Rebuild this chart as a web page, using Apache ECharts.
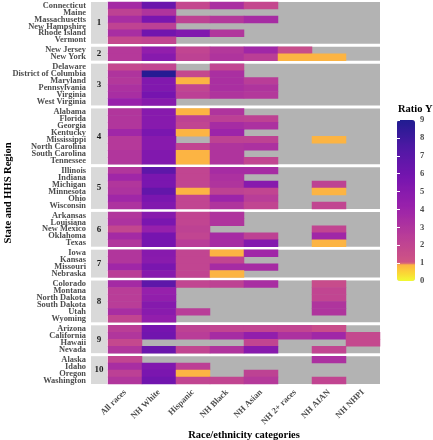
<!DOCTYPE html>
<html>
<head>
<meta charset="utf-8">
<script src="https://cdn.jsdelivr.net/npm/echarts@6/dist/echarts.min.js"></script>
<style>
html,body{margin:0;padding:0;background:#fff;}
#chart{width:433px;height:440px;}
</style>
</head>
<body>
<div id="chart"></div>
<script>
// ---------- DATA ----------
const categories = ['All races','NH White','Hispanic','NH Black','NH Asian','NH 2+ races','NH AIAN','NH NHPI'];
const regionLabels = ['1','2','3','4','5','6','7','8','9','10'];
const colorbarTicks = [0,1,2,3,4,5,6,7,8,9];

const region1States = ['Connecticut','Maine','Massachusetts','New Hampshire','Rhode Island','Vermont'];
const region1Values = [
  [3.6,6.3,1.8,3.3,1.8,null,null,null],
  [2.2,3.0,null,null,null,null,null,null],
  [3.4,5.6,2.2,2.8,3.5,null,null,null],
  [2.1,2.3,null,null,null,null,null,null],
  [3.4,6.0,5.3,2.9,null,null,null,null],
  [1.8,2.0,null,null,null,null,null,null]
];
const region2States = ['New Jersey','New York'];
const region2Values = [
  [2.7,4.5,2.0,2.8,3.8,1.6,null,null],
  [2.7,5.0,2.2,3.0,2.4,0.9,0.9,null]
];
const region3States = ['Delaware','District of Columbia','Maryland','Pennsylvania','Virginia','West Virginia'];
const region3Values = [
  [1.8,2.0,null,2.0,null,null,null,null],
  [3.0,8.8,1.8,3.3,null,null,null,null],
  [2.8,5.3,0.9,3.3,2.5,null,null,null],
  [3.2,5.3,2.0,3.3,3.0,null,null,null],
  [3.4,5.8,2.3,3.0,2.8,null,null,null],
  [4.2,5.0,null,null,null,null,null,null]
];
const region4States = ['Alabama','Florida','Georgia','Kentucky','Mississippi','North Carolina','South Carolina','Tennessee'];
const region4Values = [
  [2.9,5.0,0.9,3.0,null,null,null,null],
  [2.9,5.0,2.2,2.3,2.2,null,null,null],
  [2.9,5.0,2.0,3.5,3.2,null,null,null],
  [3.8,5.6,0.9,4.0,null,null,null,null],
  [2.7,5.0,null,2.2,2.2,null,0.9,null],
  [2.7,5.0,2.0,3.0,3.2,null,null,null],
  [2.9,5.3,0.9,3.0,null,null,null,null],
  [2.9,5.3,0.9,3.0,2.0,null,null,null]
];
const region5States = ['Illinois','Indiana','Michigan','Minnesota','Ohio','Wisconsin'];
const region5Values = [
  [2.9,6.8,2.0,3.5,3.5,null,null,null],
  [3.8,5.6,2.0,3.2,null,null,null,null],
  [2.9,5.6,2.0,3.0,5.0,null,2.2,null],
  [3.1,6.6,0.9,2.2,2.0,null,0.9,null],
  [3.8,5.6,2.0,4.0,2.5,null,null,null],
  [3.1,5.3,2.0,3.0,2.0,null,2.0,null]
];
const region6States = ['Arkansas','Louisiana','New Mexico','Oklahoma','Texas'];
const region6Values = [
  [2.9,5.0,2.0,3.0,null,null,null,null],
  [3.1,5.6,2.0,3.0,null,null,null,null],
  [1.9,4.3,2.2,null,null,null,2.0,null],
  [3.6,5.8,2.0,3.5,2.2,null,3.8,null],
  [2.9,5.8,2.5,3.5,5.2,null,0.9,null]
];
const region7States = ['Iowa','Kansas','Missouri','Nebraska'];
const region7Values = [
  [2.9,5.0,2.0,0.9,3.8,null,null,null],
  [2.9,4.9,2.0,2.0,null,null,null,null],
  [3.8,5.6,2.0,3.5,3.5,null,null,null],
  [2.4,5.0,2.0,0.9,null,null,null,null]
];
const region8States = ['Colorado','Montana','North Dakota','South Dakota','Utah','Wyoming'];
const region8Values = [
  [3.6,6.8,2.0,2.2,3.4,null,1.6,null],
  [2.5,4.3,null,null,null,null,2.0,null],
  [2.5,4.5,null,null,null,null,2.0,null],
  [2.5,5.1,null,null,null,null,3.0,null],
  [3.4,4.9,2.5,null,null,null,3.0,null],
  [2.0,4.5,null,null,null,null,null,null]
];
const region9States = ['Arizona','California','Hawaii','Nevada'];
const region9Values = [
  [2.4,5.8,2.2,2.0,2.0,2.0,1.5,null],
  [2.9,6.0,2.5,3.5,4.5,3.2,3.8,1.8],
  [1.8,null,null,null,2.0,null,null,1.8],
  [2.9,6.3,2.0,3.0,5.0,null,2.0,null]
];
const region10States = ['Alaska','Idaho','Oregon','Washington'];
const region10Values = [
  [2.0,null,null,null,null,null,3.2,null],
  [3.4,5.3,2.3,null,null,null,null,null],
  [2.3,5.6,0.9,null,2.2,null,null,null],
  [2.9,6.0,2.0,2.0,2.7,null,2.0,null]
];

const regionStates = [region1States,region2States,region3States,region4States,region5States,
  region6States,region7States,region8States,region9States,region10States];
const regionValues = [region1Values,region2Values,region3Values,region4Values,region5Values,
  region6Values,region7Values,region8Values,region9Values,region10Values];

// ---------- COLOURS (plasma with a break at 1) ----------
const plasma = ['#0d0887','#41049d','#6a00a8','#8f0da4','#b12a90','#cc4778','#e16462','#f2844b','#fca636','#fcce25','#f0f921'];
function hex2rgb(h){return [parseInt(h.substr(1,2),16),parseInt(h.substr(3,2),16),parseInt(h.substr(5,2),16)];}
function plasmaAt(t){
  t = Math.max(0, Math.min(1, t));
  const p = t * (plasma.length - 1);
  const i = Math.min(plasma.length - 2, Math.floor(p));
  const f = p - i;
  const a = hex2rgb(plasma[i]), b = hex2rgb(plasma[i+1]);
  const c = a.map((v,k)=>{ const x = v + (b[k]-v)*f; return Math.round(x + (255 - x) * 0.08); });
  return 'rgb(' + c.join(',') + ')';
}
function ratioColor(v){
  const t = v >= 1 ? 0.5 * (9 - v) / 8 : 0.8 + 0.2 * (1 - v);
  return plasmaAt(t);
}
const rampColors = [];
for (let i = 0; i <= 180; i++) rampColors.push(ratioColor(i * 0.05));

// ---------- LAYOUT ----------
const GRID_LEFT = 108, GRID_WIDTH = 272, GRID_TOP = 2, GRID_BOTTOM = 384, GAP = 3;
const totalRows = regionStates.reduce((s,a)=>s+a.length,0);
const rowH = (GRID_BOTTOM - GRID_TOP - GAP*(regionStates.length-1)) / totalRows;
const SERIF = "'Liberation Serif', 'DejaVu Serif', serif";
const labelColor = '#4d4d4d';

const grids = [], xAxes = [], yAxes = [], series = [], graphics = [];
let y = GRID_TOP;
regionStates.forEach((states, i) => {
  const h = states.length * rowH;
  grids.push({left: GRID_LEFT, top: y, width: GRID_WIDTH, height: h, show: true,
    backgroundColor: '#b3b3b3', borderWidth: 0, containLabel: false, outerBoundsMode: 'none'});
  const last = i === regionStates.length - 1;
  xAxes.push({
    type: 'category', gridIndex: i, data: categories, show: last,
    axisLine: {show: false}, axisTick: {show: false}, splitLine: {show: false},
    axisLabel: {show: last, interval: 0, rotate: 45, margin: 7,
      fontFamily: SERIF, fontWeight: 'bold', fontSize: 8.6, color: labelColor},
    name: last ? 'Race/ethnicity categories' : '', nameLocation: 'middle', nameGap: 43,
    nameTextStyle: {fontFamily: SERIF, fontWeight: 'bold', fontSize: 10.5, color: '#000'}
  });
  yAxes.push({
    type: 'category', gridIndex: i, data: states, inverse: true,
    axisLine: {show: false}, axisTick: {show: false}, splitLine: {show: false},
    axisLabel: {interval: 0, margin: 22, fontFamily: SERIF, fontWeight: 'bold',
      fontSize: 8.4, color: labelColor}
  });
  const data = [];
  regionValues[i].forEach((row, r) => row.forEach((v, c) => { if (v !== null) data.push([c, r, v]); }));
  series.push({type: 'heatmap', xAxisIndex: i, yAxisIndex: i, data: data, emphasis: {disabled: true}});
  graphics.push({type: 'rect', shape: {x: 91, y: y, width: 16, height: h}, style: {fill: '#d9d9d9'}, silent: true});
  graphics.push({type: 'text', x: 99, y: y + h/2, silent: true,
    style: {text: regionLabels[i], align: 'center', verticalAlign: 'middle',
      font: "bold 9px " + SERIF, fill: '#1a1a1a'}});
  y += h + GAP;
});

// colourbar tick grid
const CB_LEFT = 397, CB_TOP = 120, CB_W = 18, CB_H = 161;
const cbIndex = grids.length;
grids.push({left: CB_LEFT, top: CB_TOP, width: CB_W, height: CB_H, show: false, outerBoundsMode: 'none'});
xAxes.push({type: 'value', gridIndex: cbIndex, show: false, min: 0, max: 1});
const tickCommon = {type: 'value', gridIndex: cbIndex, min: colorbarTicks[0], max: colorbarTicks[colorbarTicks.length-1], interval: 1, z: 10,
  axisLine: {show: false}, splitLine: {show: false},
  axisTick: {show: true, inside: true, length: 3, lineStyle: {color: '#ffffff', width: 1}}};
yAxes.push(Object.assign({}, tickCommon, {position: 'right',
  axisLabel: {margin: 5, fontFamily: SERIF, fontWeight: 'bold', fontSize: 8.6, color: labelColor}}));
yAxes.push(Object.assign({}, tickCommon, {position: 'left', axisLabel: {show: false}}));

graphics.push({type: 'text', x: 8, y: 193, rotation: Math.PI/2, silent: true,
  style: {text: 'State and HHS Region', align: 'center', verticalAlign: 'middle',
    font: "bold 10.5px " + SERIF, fill: '#000'}});
graphics.push({type: 'text', x: 398, y: 109, silent: true,
  style: {text: 'Ratio Y', align: 'left', verticalAlign: 'middle',
    font: "bold 10.5px " + SERIF, fill: '#000'}});

const chart = echarts.init(document.getElementById('chart'), null, {renderer: 'canvas'});
chart.setOption({
  animation: false,
  backgroundColor: '#ffffff',
  grid: grids, xAxis: xAxes, yAxis: yAxes, series: series,
  visualMap: {type: 'continuous', min: 0, max: 9, calculable: false, hoverLink: false,
    orient: 'vertical', left: CB_LEFT, top: CB_TOP, itemWidth: CB_W, itemHeight: CB_H,
    padding: 0, text: null, showLabel: false, seriesIndex: series.map((s, i) => i),
    inRange: {color: rampColors}},
  graphic: graphics
});
</script>
</body>
</html>
